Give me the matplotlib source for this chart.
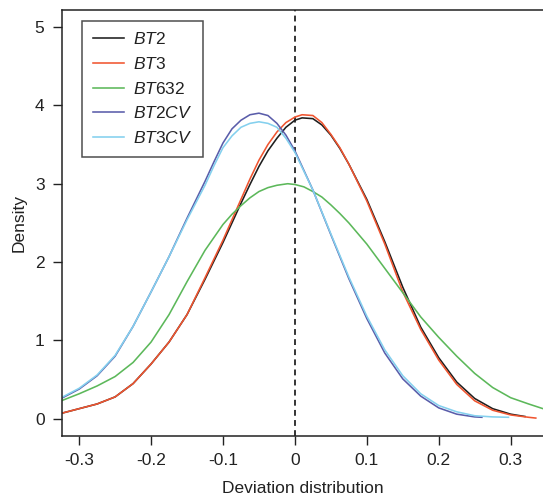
#!/usr/bin/env python

import numpy as np
import matplotlib
matplotlib.use('Agg')
import matplotlib.pyplot as plt

plt.rcParams['font.family'] = ['Liberation Sans', 'DejaVu Sans']
plt.rcParams['mathtext.fontset'] = 'custom'
plt.rcParams['mathtext.rm'] = 'Liberation Sans'
plt.rcParams['mathtext.it'] = 'Liberation Sans:italic'
plt.rcParams['axes.unicode_minus'] = False

# values
bt2_x = [-0.325, -0.3, -0.275, -0.25, -0.225, -0.2, -0.175, -0.15, -0.125, -0.1, -0.075,
         -0.0625, -0.05, -0.0375, -0.025, -0.0125, 0.0, 0.01, 0.025, 0.0375, 0.05, 0.0625,
         0.075, 0.1, 0.125, 0.15, 0.175, 0.2, 0.225, 0.25, 0.275, 0.3, 0.32]
bt2_y = [0.07, 0.13, 0.19, 0.28, 0.45, 0.70, 0.98, 1.33, 1.78, 2.25, 2.75,
         2.99, 3.22, 3.42, 3.58, 3.72, 3.81, 3.84, 3.83, 3.75, 3.62, 3.45,
         3.25, 2.80, 2.26, 1.68, 1.17, 0.78, 0.47, 0.26, 0.13, 0.06, 0.03]

bt3_x = [-0.325, -0.3, -0.275, -0.25, -0.225, -0.2, -0.175, -0.15, -0.125, -0.1, -0.075,
         -0.0625, -0.05, -0.0375, -0.025, -0.0125, 0.0, 0.01, 0.025, 0.0375, 0.05, 0.0625,
         0.075, 0.1, 0.125, 0.15, 0.175, 0.2, 0.225, 0.25, 0.275, 0.3, 0.325, 0.335]
bt3_y = [0.07, 0.13, 0.19, 0.28, 0.45, 0.70, 0.98, 1.33, 1.80, 2.28, 2.80,
         3.06, 3.30, 3.50, 3.66, 3.78, 3.85, 3.88, 3.87, 3.78, 3.63, 3.46,
         3.25, 2.78, 2.23, 1.62, 1.14, 0.75, 0.44, 0.23, 0.11, 0.05, 0.02, 0.01]

bt632_x = [-0.325, -0.3, -0.275, -0.25, -0.225, -0.2, -0.175, -0.15, -0.125, -0.1, -0.0875,
           -0.075, -0.0625, -0.05, -0.0375, -0.025, -0.01, 0.0, 0.0125, 0.025, 0.0375, 0.05,
           0.0625, 0.075, 0.1, 0.125, 0.15, 0.175, 0.2, 0.225, 0.25, 0.275, 0.3, 0.325, 0.345]
bt632_y = [0.23, 0.32, 0.42, 0.54, 0.72, 0.98, 1.33, 1.75, 2.15, 2.48, 2.61,
           2.72, 2.82, 2.90, 2.95, 2.98, 3.00, 2.99, 2.96, 2.90, 2.83, 2.73,
           2.62, 2.50, 2.23, 1.92, 1.61, 1.30, 1.04, 0.80, 0.58, 0.40, 0.27, 0.19, 0.13]

bt2cv_x = [-0.325, -0.3, -0.275, -0.25, -0.225, -0.2, -0.175, -0.15, -0.125, -0.1125, -0.1,
           -0.0875, -0.075, -0.0625, -0.05, -0.0375, -0.025, -0.0125, 0.0, 0.025, 0.05, 0.075,
           0.1, 0.125, 0.15, 0.175, 0.2, 0.225, 0.25, 0.26]
bt2cv_y = [0.26, 0.38, 0.55, 0.80, 1.18, 1.62, 2.07, 2.56, 3.03, 3.28, 3.52,
           3.70, 3.81, 3.88, 3.90, 3.87, 3.77, 3.62, 3.42, 2.92, 2.35, 1.79,
           1.28, 0.84, 0.51, 0.29, 0.14, 0.06, 0.025, 0.02]

bt3cv_x = [-0.325, -0.3, -0.275, -0.25, -0.225, -0.2, -0.175, -0.15, -0.125, -0.1125, -0.1,
           -0.0875, -0.075, -0.0625, -0.05, -0.0375, -0.025, -0.0125, 0.0, 0.025, 0.05, 0.075,
           0.1, 0.125, 0.15, 0.175, 0.2, 0.225, 0.25, 0.275, 0.297]
bt3cv_y = [0.27, 0.39, 0.56, 0.81, 1.18, 1.62, 2.07, 2.54, 2.98, 3.23, 3.46,
           3.61, 3.72, 3.77, 3.79, 3.77, 3.72, 3.58, 3.40, 2.92, 2.36, 1.81,
           1.31, 0.88, 0.55, 0.32, 0.17, 0.09, 0.04, 0.025, 0.02]

labels = [r'$\mathit{BT}$2', r'$\mathit{BT}$3', r'$\mathit{BT}$632',
          r'$\mathit{BT}$2$\mathit{CV}$', r'$\mathit{BT}$3$\mathit{CV}$']
colors = ['#1e1e1e', '#f05530', '#5cb85a', '#5a5daa', '#84d0ee']

xticks = [-0.3, -0.2, -0.1, 0.0, 0.1, 0.2, 0.3]
xtick_labels = ['-0.3', '-0.2', '-0.1', '0', '0.1', '0.2', '0.3']
yticks = [0, 1, 2, 3, 4, 5]

fig = plt.figure(figsize=(5.43, 4.97), dpi=100)
ax = fig.add_axes([0.114, 0.123, 0.886, 0.857])

series = [(bt2_x, bt2_y), (bt3_x, bt3_y), (bt632_x, bt632_y),
          (bt2cv_x, bt2cv_y), (bt3cv_x, bt3cv_y)]
for (xs, ys), lab, col in zip(series, labels, colors):
    ax.plot(xs, ys, color=col, lw=1.15, label=lab, solid_joinstyle='round')

ax.axvline(0, color='#333333', lw=1.4, ls=(0, (3, 2.2)), zorder=0)

ax.set_xlim(-0.324, 0.345)
ax.set_ylim(-0.217, 5.217)
ax.set_xticks(xticks)
ax.set_xticklabels(xtick_labels)
ax.set_yticks(yticks)
ax.tick_params(direction='out', length=6.5, width=1.0, labelsize=12.5, colors='#222222', pad=6)
for side in ['left', 'top', 'bottom']:
    ax.spines[side].set_linewidth(1.1)
    ax.spines[side].set_color('#222222')
ax.spines['right'].set_visible(False)

ax.set_xlabel('Deviation distribution', fontsize=12.5, color='#222222', labelpad=9)
ax.set_ylabel('Density', fontsize=12.5, color='#222222', labelpad=6)

leg = ax.legend(loc='upper left', bbox_to_anchor=(0.042, 0.974), borderaxespad=0,
                fontsize=12.5, frameon=True, fancybox=False, handlelength=1.8,
                handletextpad=0.55, labelspacing=0.5, borderpad=0.6)
leg.get_frame().set_edgecolor('#222222')
leg.get_frame().set_linewidth(1.1)
for t in leg.get_texts():
    t.set_color('#222222')

fig.savefig('out.png', dpi=100)
